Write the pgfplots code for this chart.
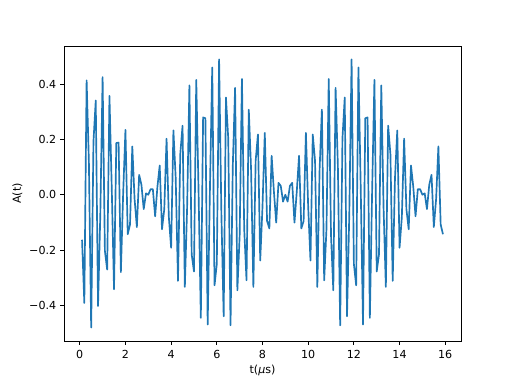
\documentclass[border=0pt]{standalone}
\usepackage{fontspec}
\setmainfont{DejaVu Sans}
\usepackage{pgfplots}
\pgfplotsset{compat=1.18}
\definecolor{mplblue}{HTML}{1F77B4}
\begin{document}
\fontsize{11.1bp}{13bp}\selectfont
\begin{tikzpicture}
\begin{axis}[
  scale only axis, width=397bp, height=295bp,
  xmin=-0.69, xmax=16.69, ymin=-0.5296, ymax=0.5386,
  xtick={0,2,4,6,8,10,12,14,16},
  xticklabels={0,2,4,6,8,10,12,14,16},
  ytick={-0.4,-0.2,0,0.2,0.4},
  yticklabels={−0.4,−0.2,0.0,0.2,0.4},
  tick align=outside, tick pos=left,
  major tick length=3.9bp,
  every tick/.style={black, line width=0.89bp},
  axis line style={line width=0.89bp},
  tick label style={font=\fontsize{11.1bp}{13bp}\selectfont},
  label style={font=\fontsize{11.1bp}{13bp}\selectfont},
  xticklabel style={yshift=-1.2bp},
  xlabel={t(\textit{μ}s)},
  ylabel={A(t)},
  xlabel style={at={(axis description cs:0.5,0)}, anchor=base, yshift=-32.5bp},
  ylabel style={at={([xshift=-43bp]axis description cs:0,0.5)}, anchor=base},
  clip=false,
]
\addplot[mplblue, line width=1.67bp, line join=round] coordinates {
(0.1,-0.163) (0.2,-0.392) (0.3,0.414) (0.4,0.118) (0.5,-0.481) (0.6,0.193) (0.7,0.341) (0.8,-0.403) (0.9,-0.070) (1.0,0.426)
(1.1,-0.203) (1.2,-0.271) (1.3,0.358) (1.4,0.026) (1.5,-0.342) (1.6,0.187) (1.7,0.189) (1.8,-0.280) (1.9,0.005) (2.0,0.235)
(2.1,-0.143) (2.2,-0.108) (2.3,0.175) (2.4,-0.016) (2.5,-0.117) (2.6,0.072) (2.7,0.036) (2.8,-0.052) (2.9,0.005) (3.0,0.000)
(3.1,0.020) (3.2,0.020) (3.3,-0.078) (3.4,0.029) (3.5,0.106) (3.6,-0.125) (3.7,-0.052) (3.8,0.203) (3.9,-0.081) (4.0,-0.192)
(4.1,0.233) (4.2,0.061) (4.3,-0.312) (4.4,0.147) (4.5,0.250) (4.6,-0.334) (4.7,-0.047) (4.8,0.396) (4.9,-0.216) (5.0,-0.278)
(5.1,0.416) (5.2,0.016) (5.3,-0.446) (5.4,0.280) (5.5,0.277) (5.6,-0.470) (5.7,0.026) (5.8,0.461) (5.9,-0.328) (6.0,-0.250)
(6.1,0.490) (6.2,-0.069) (6.3,-0.440) (6.4,0.352) (6.5,0.204) (6.6,-0.473) (6.7,0.105) (6.8,0.387) (6.9,-0.346) (7.0,-0.148)
(7.1,0.419) (7.2,-0.125) (7.3,-0.310) (7.4,0.308) (7.5,0.092) (7.6,-0.334) (7.7,0.123) (7.8,0.218) (7.9,-0.238) (8.0,-0.043)
(8.1,0.224) (8.2,-0.095) (8.3,-0.122) (8.4,0.141) (8.5,0.011) (8.6,-0.101) (8.7,0.043) (8.8,0.032) (8.9,-0.025) (9.0,0.000)
(9.1,-0.025) (9.2,0.032) (9.3,0.043) (9.4,-0.101) (9.5,0.011) (9.6,0.141) (9.7,-0.122) (9.8,-0.095) (9.9,0.224) (10.0,-0.043)
(10.1,-0.238) (10.2,0.218) (10.3,0.123) (10.4,-0.334) (10.5,0.092) (10.6,0.308) (10.7,-0.310) (10.8,-0.125) (10.9,0.419) (11.0,-0.148)
(11.1,-0.346) (11.2,0.387) (11.3,0.105) (11.4,-0.473) (11.5,0.204) (11.6,0.352) (11.7,-0.440) (11.8,-0.069) (11.9,0.490) (12.0,-0.250)
(12.1,-0.328) (12.2,0.461) (12.3,0.026) (12.4,-0.470) (12.5,0.277) (12.6,0.280) (12.7,-0.446) (12.8,0.016) (12.9,0.416) (13.0,-0.278)
(13.1,-0.216) (13.2,0.396) (13.3,-0.047) (13.4,-0.334) (13.5,0.250) (13.6,0.147) (13.7,-0.312) (13.8,0.061) (13.9,0.233) (14.0,-0.192)
(14.1,-0.081) (14.2,0.203) (14.3,-0.052) (14.4,-0.125) (14.5,0.106) (14.6,0.029) (14.7,-0.078) (14.8,0.020) (14.9,0.020) (15.0,0.000)
(15.1,0.005) (15.2,-0.052) (15.3,0.036) (15.4,0.072) (15.5,-0.117) (15.6,-0.016) (15.7,0.175) (15.8,-0.108) (15.9,-0.143)
};
\coordinate (ll) at (rel axis cs:0,0);
\end{axis}
\path (ll) ++(-64bp,-43bp) rectangle ++(512bp,384bp);
\end{tikzpicture}
\end{document}
